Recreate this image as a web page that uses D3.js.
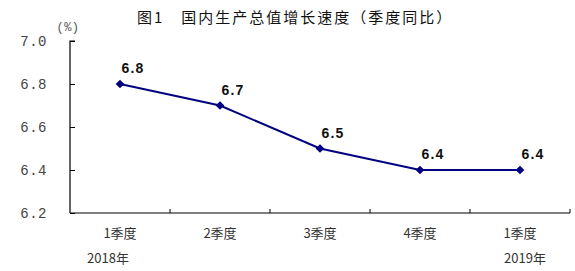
<!DOCTYPE html>
<html>
<head>
<meta charset="utf-8">
<script src="https://cdn.jsdelivr.net/npm/d3@7"></script>
<style>
  body { margin: 0; background: #fff; }
</style>
</head>
<body>
<script>
// quarterly GDP growth data
const quarters = ['1季度', '2季度', '3季度', '4季度', '1季度'];
const growth = [6.8, 6.7, 6.5, 6.4, 6.4];
const yearLabels = [{ idx: 0, text: '2018年' }, { idx: 4, text: '2019年' }];
const yTicks = [6.2, 6.4, 6.6, 6.8, 7.0];

const width = 575, height = 271;
const plotLeft = 70, plotRight = 570, plotTop = 41, plotBottom = 213;

const svg = d3.select('body').append('svg')
    .attr('width', width)
    .attr('height', height);

// scales
const x = d3.scaleBand().domain(d3.range(quarters.length)).range([plotLeft, plotRight]);
const y = d3.scaleLinear().domain([6.2, 7.0]).range([plotBottom, plotTop]);

// title
svg.append('text')
    .attr('x', 137).attr('y', 23)
    .attr('font-family', '"Noto Sans CJK SC", sans-serif')
    .attr('font-size', 15)
    .attr('letter-spacing', 2)
    .attr('fill', '#111')
    .text('图1　国内生产总值增长速度（季度同比）');

// unit
svg.append('text')
    .attr('x', 68).attr('y', 31)
    .attr('text-anchor', 'middle')
    .attr('font-family', '"Liberation Mono", monospace')
    .attr('font-size', 12)
    .attr('letter-spacing', 0.5)
    .attr('fill', '#555')
    .text('(%)');

// y axis
const yAxis = svg.append('g')
    .attr('transform', `translate(${plotLeft},0)`)
    .call(d3.axisRight(y).tickValues(yTicks).tickSize(5).tickFormat(d3.format('.1f')));
yAxis.select('.domain').attr('d', `M5,${plotTop}H0V${plotBottom}`).attr('stroke', '#000').attr('stroke-width', 1.2);
yAxis.selectAll('.tick line').attr('stroke', '#000');
yAxis.selectAll('.tick text')
    .attr('x', -23)
    .attr('text-anchor', 'end')
    .attr('dy', '0.35em')
    .attr('font-family', '"Liberation Mono", monospace')
    .attr('font-size', 14)
    .attr('letter-spacing', 0.5)
    .attr('fill', '#444');

// x axis with ticks at band edges
const edges = d3.range(quarters.length + 1).map(i => plotLeft + i * x.step());
svg.append('line')
    .attr('x1', plotLeft).attr('x2', plotRight)
    .attr('y1', plotBottom).attr('y2', plotBottom)
    .attr('stroke', '#000').attr('stroke-width', 1.2);
svg.selectAll('.xtick')
    .data(edges.slice(1))
    .enter().append('line')
    .attr('x1', d => d).attr('x2', d => d)
    .attr('y1', plotBottom).attr('y2', plotBottom - 4)
    .attr('stroke', '#000');

// category labels
svg.selectAll('.cat')
    .data(quarters)
    .enter().append('text')
    .attr('x', (d, i) => x(i) + x.bandwidth() / 2)
    .attr('y', 238)
    .attr('text-anchor', 'middle')
    .attr('font-family', '"Noto Sans CJK SC", sans-serif')
    .attr('font-size', 13)
    .attr('fill', '#333')
    .text(d => d);

// year labels
svg.selectAll('.year')
    .data(yearLabels)
    .enter().append('text')
    .attr('x', d => x(d.idx) + x.bandwidth() / 2 + (d.idx === 0 ? -12 : 5))
    .attr('y', 263)
    .attr('text-anchor', 'middle')
    .attr('font-family', '"Noto Sans CJK SC", sans-serif')
    .attr('font-size', 13)
    .attr('fill', '#333')
    .text(d => d.text);

// line
const line = d3.line()
    .x((d, i) => x(i) + x.bandwidth() / 2)
    .y(d => y(d));
svg.append('path')
    .datum(growth)
    .attr('d', line)
    .attr('fill', 'none')
    .attr('stroke', '#000080')
    .attr('stroke-width', 2);

// diamond markers
svg.selectAll('.marker')
    .data(growth)
    .enter().append('path')
    .attr('d', d3.symbol().type(d3.symbolSquare).size(38))
    .attr('transform', (d, i) => `translate(${x(i) + x.bandwidth() / 2},${y(d)}) rotate(45)`)
    .attr('fill', '#000080');

// value labels
svg.selectAll('.val')
    .data(growth)
    .enter().append('text')
    .attr('x', (d, i) => x(i) + x.bandwidth() / 2 + 13)
    .attr('y', d => y(d) - 11)
    .attr('text-anchor', 'middle')
    .attr('font-family', '"Liberation Sans", Arial, sans-serif')
    .attr('font-weight', 'bold')
    .attr('font-size', 14)
    .attr('letter-spacing', 1.2)
    .attr('fill', '#111')
    .text(d => d.toFixed(1));
</script>
</body>
</html>
